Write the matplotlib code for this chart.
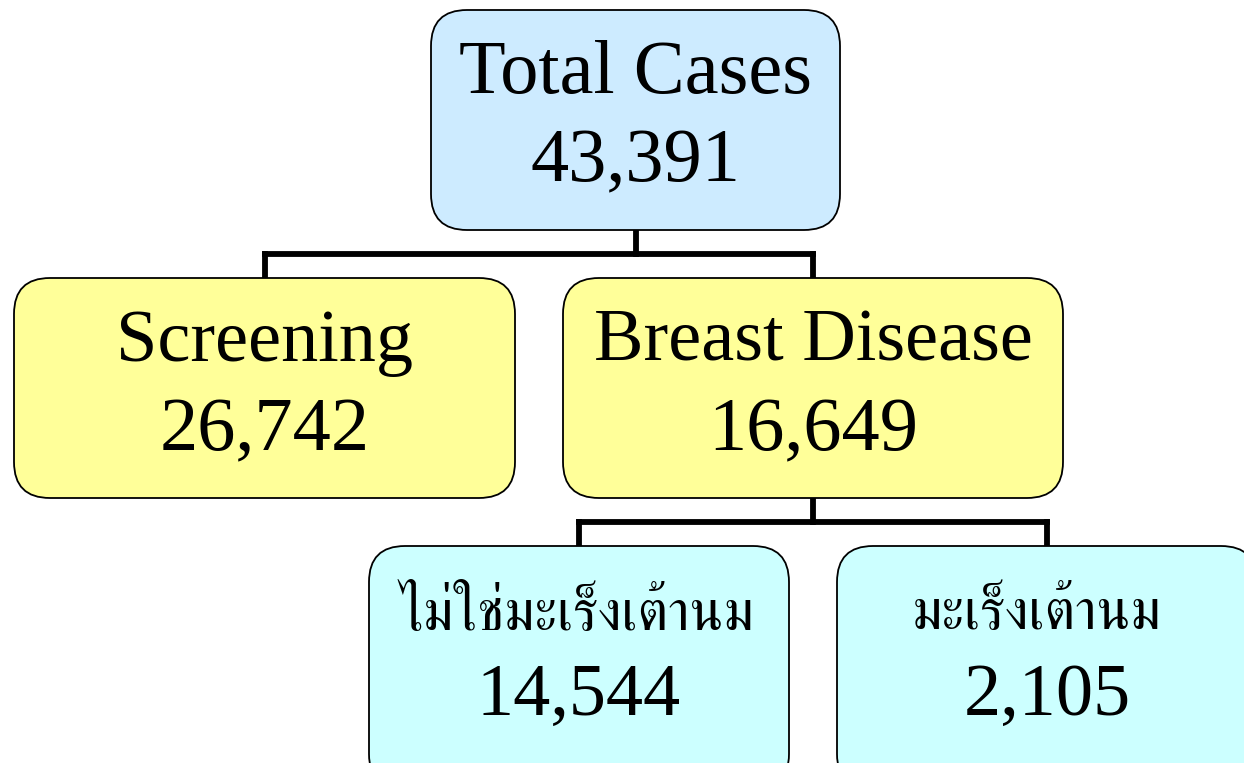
import matplotlib
matplotlib.use("Agg")
import matplotlib.pyplot as plt
from matplotlib.patches import FancyBboxPatch

# node data
labels = ["Total Cases", "Screening", "Breast Disease", "ไม่ใช่มะเร็งเต้านม", "มะเร็งเต้านม"]
counts = [43391, 26742, 16649, 14544, 2105]
parents = [None, 0, 0, 2, 2]

# box layout in pixels (x0, y0, x1, y1), y going down
boxes = [(431, 10, 840, 230), (14, 278, 515, 498), (563, 278, 1063, 498),
         (369, 546, 789, 790), (837, 546, 1257, 790)]
fills = ["#cdebff", "#ffff99", "#ffff99", "#ccffff", "#ccffff"]
label_dx = [0, 0, 0, -2, -10]

plt.rcParams["font.family"] = ["Liberation Serif", "FreeSerif"]

fig = plt.figure(figsize=(12.44, 7.63), dpi=100)
ax = fig.add_axes([0, 0, 1, 1])
ax.set_xlim(0, 1244)
ax.set_ylim(763, 0)
ax.axis("off")

for i, (x0, y0, x1, y1) in enumerate(boxes):
    r = 36
    p = FancyBboxPatch((x0 + r, y0 + r), (x1 - x0) - 2 * r, (y1 - y0) - 2 * r,
                       boxstyle="round,pad=%d,rounding_size=%d" % (r, r),
                       fc=fills[i], ec="black", lw=1.3, zorder=2)
    ax.add_patch(p)
    cx = (x0 + x1) / 2
    if i == 0:
        ax.text(cx, y0 + 64, labels[i], ha="center", va="center", fontsize=55, zorder=3)
        ax.text(cx, y0 + 153, f"{counts[i]:,}", ha="center", va="center", fontsize=55, zorder=3)
    elif i < 3:
        ax.text(cx, y0 + 65, labels[i], ha="center", va="center", fontsize=53.5, zorder=3)
        ax.text(cx, y0 + 154, f"{counts[i]:,}", ha="center", va="center", fontsize=55, zorder=3)
    else:
        ax.text(cx + label_dx[i], y0 + 70, labels[i], ha="center", va="center", fontsize=40.5,
                family=["FreeSerif"], zorder=3)
        ax.text(cx, y0 + 151, f"{counts[i]:,}", ha="center", va="center", fontsize=53.5, zorder=3)

# connectors
for p in sorted(set(q for q in parents if q is not None)):
    kids = [k for k, q in enumerate(parents) if q == p]
    px = (boxes[p][0] + boxes[p][2]) / 2
    py = boxes[p][3]
    ky = boxes[kids[0]][1]
    my = (py + ky) / 2
    kxs = [(boxes[k][0] + boxes[k][2]) / 2 for k in kids]
    ax.plot([px, px], [py, my], color="black", lw=4.2, zorder=1)
    ax.plot([min(kxs), max(kxs)], [my, my], color="black", lw=4.2, zorder=1,
            solid_capstyle="projecting")
    for kx in kxs:
        ax.plot([kx, kx], [my, ky], color="black", lw=4.2, zorder=1, solid_capstyle="projecting")

fig.savefig("out.png", dpi=100)
